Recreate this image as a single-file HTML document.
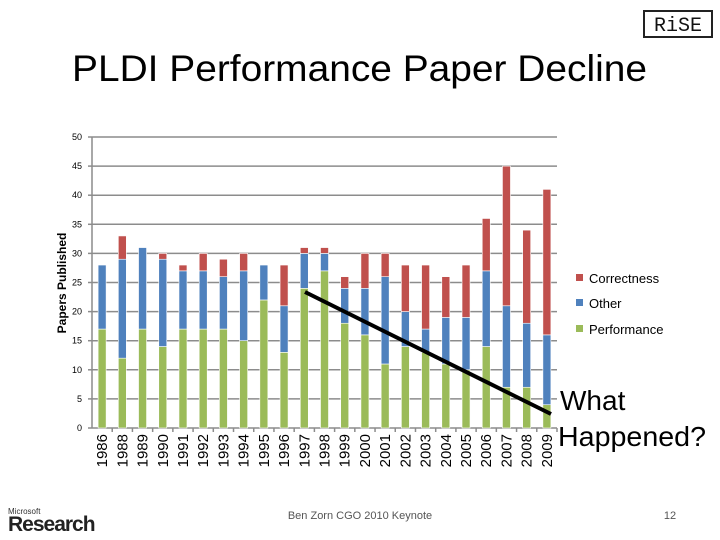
<!DOCTYPE html>
<html><head><meta charset="utf-8"><style>
body{margin:0;width:720px;height:540px;background:#fff;overflow:hidden;font-family:"Liberation Sans",sans-serif}
svg{position:absolute;left:0;top:0}
</style></head><body>
<svg id="s" width="720" height="540">
<text x="72" y="81" font-size="37" fill="#000" textLength="575" lengthAdjust="spacingAndGlyphs">PLDI Performance Paper Decline</text>
<g><rect x="644" y="11" width="68" height="26" fill="#fff" stroke="#222" stroke-width="2"/>
<text x="678" y="31" text-anchor="middle" font-family="Liberation Mono,monospace" font-size="20" fill="#111">RiSE</text></g>
<text x="66" y="283" font-size="12" font-weight="bold" fill="#000" transform="rotate(-90 66 283)" text-anchor="middle">Papers Published</text>
<g id="grid"></g><g id="bars"></g><g id="axes"></g>
<g>
<rect x="576" y="274" width="7" height="7" fill="#c0504d"/><text x="589" y="283" font-size="13">Correctness</text>
<rect x="576" y="299" width="7" height="7" fill="#4f81bd"/><text x="589" y="308" font-size="13">Other</text>
<rect x="576" y="325" width="7" height="7" fill="#9bbb59"/><text x="589" y="334" font-size="13">Performance</text>
</g>
<line x1="305" y1="292" x2="551" y2="414" stroke="#000" stroke-width="4"/>
<text x="560" y="410" font-size="28">What</text>
<text x="558" y="446" font-size="28" textLength="148" lengthAdjust="spacingAndGlyphs">Happened?</text>
<g><text x="8" y="514" font-size="8" fill="#333">Microsoft</text>
<text x="8" y="531" font-size="21" font-weight="bold" fill="#222" letter-spacing="-1">Research</text></g>
<text x="360" y="519" font-size="11" fill="#555" text-anchor="middle">Ben Zorn CGO 2010 Keynote</text>
<text x="670" y="519" font-size="11" fill="#555" text-anchor="middle">12</text>
</svg>
<script>
const years=["1986","1988","1989","1990","1991","1992","1993","1994","1995","1996","1997","1998","1999","2000","2001","2002","2003","2004","2005","2006","2007","2008","2009"];
const performance=[17,12,17,14,17,17,17,15,22,13,24,27,18,16,11,14,13,11,10,14,7,7,4];
const other=[11,17,14,15,10,10,9,12,6,8,6,3,6,8,15,6,4,8,9,13,14,11,12];
const correctness=[0,4,0,1,1,3,3,3,0,7,1,1,2,6,4,8,11,7,9,9,24,16,25];
const yTicks=[0,5,10,15,20,25,30,35,40,45,50];
const NS="http://www.w3.org/2000/svg";
const x0=92,x1=557,yb=428,yt=137,ymax=50;
const band=(x1-x0)/years.length,bw=8;
const Y=v=>yb-(v/ymax)*(yb-yt);
const X=i=>x0+band*(i+0.5);
function mk(t,a,p){const e=document.createElementNS(NS,t);for(const k in a)e.setAttribute(k,a[k]);p.appendChild(e);return e;}
const g=document.getElementById('grid'),b=document.getElementById('bars'),ax=document.getElementById('axes');
yTicks.forEach(v=>{
 const l=mk('line',{x1:x0,x2:x1,y1:Y(v),y2:Y(v),stroke:'#8c8c8c','stroke-width':1.5},g);
 
 
 mk('line',{x1:x0-4,x2:x0,y1:Y(v),y2:Y(v),stroke:'#8c8c8c','stroke-width':1.5},ax);
 const t=mk('text',{x:x0-10,y:Y(v)+3,'font-size':9,'text-anchor':'end'},ax);t.textContent=v;
 
 
});
mk('line',{x1:x0,x2:x0,y1:yt,y2:yb,stroke:'#8c8c8c','stroke-width':1.5},ax);
years.forEach((yr,i)=>{
 const cx=X(i);let base=0;
 [[performance,'#9bbb59','bar-performance'],[other,'#4f81bd','bar-other'],[correctness,'#c0504d','bar-correctness']].forEach(([arr,c,n])=>{
  const v=arr[i];if(v>0){const r=mk('rect',{x:cx-bw/2,y:Y(base+v),width:bw,height:Y(base)-Y(base+v),fill:c,stroke:'#fff','stroke-width':0.6},b);
  
  }
  base+=v;});
 mk('line',{x1:x0+band*(i+1),x2:x0+band*(i+1),y1:yb,y2:yb+4,stroke:'#8c8c8c','stroke-width':1.5},ax);
 const t=mk('text',{x:cx+5,y:yb+6,'font-size':15,'text-anchor':'end',transform:`rotate(-90 ${cx+5} ${yb+6})`},ax);t.textContent=yr;
 
 
});
</script>
</body></html>
